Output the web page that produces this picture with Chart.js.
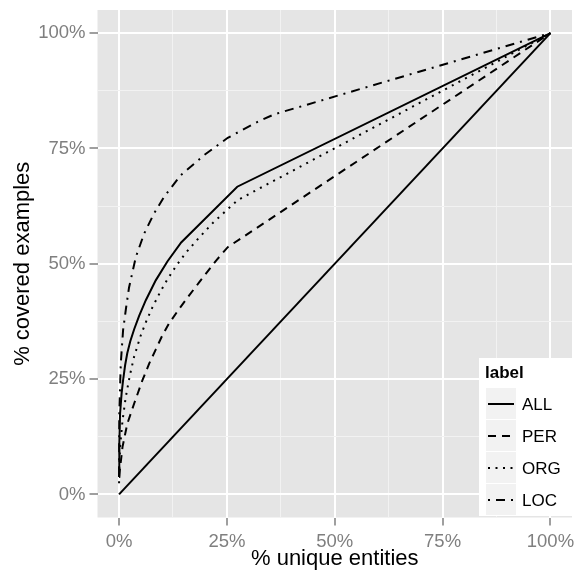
<!DOCTYPE html>
<html>
<head>
<meta charset="utf-8">
<script src="https://cdn.jsdelivr.net/npm/chart.js@4"></script>
<style>
  html, body { margin: 0; padding: 0; background: #ffffff; }
  canvas { display: block; }
</style>
</head>
<body>
<canvas id="chart" width="576" height="570"></canvas>
<script>
// values (percent)
var allX = [0, 0.05, 0.23, 0.6, 0.93, 1.4, 1.9, 2.6, 3.5, 4.65, 6.2, 8.5, 11.2, 14.4, 27.4, 100];
var allY = [3.8, 11, 17.5, 22, 24.7, 28.0, 30.6, 33.2, 35.8, 38.7, 42.1, 46.4, 50.5, 54.6, 66.7, 100];

var perX = [0, 0.8, 1.9, 3.5, 5.4, 7, 8.5, 10, 11.6, 14, 16.3, 18.6, 20.5, 22.5, 25.2, 100];
var perY = [3.8, 10.3, 15.3, 19.7, 24.7, 28.4, 31.4, 34.4, 37.1, 40.3, 43.2, 46.0, 48.3, 50.7, 53.6, 100];

var orgX = [0, 0.23, 0.8, 1.55, 2.5, 3.5, 5, 6.2, 7.7, 9.5, 11.2, 13.2, 15.5, 18.2, 21.9, 27.5, 100];
var orgY = [3.8, 10.3, 16, 21.1, 25.8, 29.9, 34.4, 37.3, 40.5, 43.8, 46.6, 49.5, 52.4, 55.3, 59.0, 63.8, 100];

var locX = [0, 0.05, 0.4, 0.93, 1.6, 2.3, 3.9, 5.8, 8.1, 10.5, 14.3, 19.8, 25.2, 32.2, 36, 100];
var locY = [2.4, 17.6, 28.4, 35.6, 40.3, 44.8, 51.5, 56.5, 60.9, 64.6, 69.2, 73.6, 77.3, 80.8, 82.4, 100];

var diagX = [0, 100];
var diagY = [0, 100];

var labels = ['ALL', 'PER', 'ORG', 'LOC'];
var tickValues = [0, 12.5, 25, 37.5, 50, 62.5, 75, 87.5, 100];

var FONT = '"Liberation Sans", Arial, sans-serif';

function pts(xs, ys) {
    return xs.map(function (x, i) { return { x: x, y: ys[i] }; });
}

function series(label, xs, ys, dash) {
    return {
        label: label,
        data: pts(xs, ys),
        showLine: true,
        borderColor: '#000000',
        borderWidth: 2,
        borderDash: dash,
        pointRadius: 0,
        fill: false,
        tension: 0
    };
}

var datasets = [
    series(labels[0], allX, allY, []),
    series(labels[1], perX, perY, [8, 6]),
    series(labels[2], orgX, orgY, [2, 5.5]),
    series(labels[3], locX, locY, [2, 6, 9, 6])
];
var diag = series('', diagX, diagY, []);
diag.noLegend = true;
datasets.push(diag);

function isMajor(v) { return v % 25 === 0; }

var panelBg = {
    id: 'panelBg',
    beforeDraw: function (chart) {
        var a = chart.chartArea, ctx = chart.ctx;
        ctx.save();
        ctx.fillStyle = '#e5e5e5';
        ctx.fillRect(a.left, a.top, a.right - a.left, a.bottom - a.top);
        ctx.restore();
    }
};

// ggplot-like legend box in the bottom right corner
var ggLegend = {
    id: 'ggLegend',
    afterDraw: function (chart) {
        var ctx = chart.ctx;
        var items = chart.data.datasets.filter(function (d) { return !d.noLegend; });
        var left = 479, top = 358, keyH = 32, keyW = 30;
        ctx.save();
        ctx.fillStyle = '#ffffff';
        ctx.fillRect(left, top, 576 - left, 20 + 10 + items.length * keyH);
        ctx.fillStyle = '#000000';
        ctx.font = 'bold 17px ' + FONT;
        ctx.textBaseline = 'middle';
        ctx.fillText('label', left + 6, top + 15);
        items.forEach(function (d, i) {
            var ky = top + 30 + i * keyH;
            ctx.fillStyle = '#f2f2f2';
            ctx.fillRect(left + 7, ky, keyW, keyH - 1);
            ctx.strokeStyle = '#000000';
            ctx.lineWidth = 2;
            ctx.setLineDash(d.borderDash || []);
            ctx.beginPath();
            ctx.moveTo(left + 9, ky + keyH / 2);
            ctx.lineTo(left + 7 + keyW - 2, ky + keyH / 2);
            ctx.stroke();
            ctx.setLineDash([]);
            ctx.fillStyle = '#000000';
            ctx.font = '17px ' + FONT;
            ctx.fillText(d.label, left + keyW + 13, ky + keyH / 2 + 1);
        });
        ctx.restore();
    }
};

function axis(title, isX) {
    return {
        type: 'linear',
        min: -5,
        max: 105,
        afterBuildTicks: function (scale) {
            scale.ticks = tickValues.map(function (v) { return { value: v }; });
        },
        afterFit: function (scale) {
            if (isX) scale.height = 52.5; else scale.width = 97.5;
            // no extra room for the end labels, the panel fills the page like ggplot
            scale.paddingLeft = scale.paddingRight = 0;
            scale.paddingTop = scale.paddingBottom = 0;
        },
        border: { display: false },
        grid: {
            color: function (c) { return isMajor(c.tick.value) ? '#ffffff' : '#f2f2f2'; },
            lineWidth: function (c) { return isMajor(c.tick.value) ? 2 : 1; },
            tickColor: function (c) { return isMajor(c.tick.value) ? '#7f7f7f' : 'rgba(0,0,0,0)'; },
            tickLength: 8,
            tickWidth: 1.5
        },
        ticks: {
            autoSkip: false,
            maxRotation: 0,
            padding: isX ? 5 : 4,
            color: '#7f7f7f',
            font: { family: FONT, size: 18.5 },
            callback: function (v) { return isMajor(v) ? v + '%' : ''; }
        },
        title: {
            display: true,
            text: title,
            color: '#000000',
            padding: isX ? 0 : { top: 10, bottom: 0 },
            font: { family: FONT, size: 22, lineHeight: isX ? 1 : 1.2 }
        }
    };
}

new Chart(document.getElementById('chart'), {
    type: 'scatter',
    data: { datasets: datasets },
    options: {
        responsive: false,
        animation: false,
        devicePixelRatio: 1,
        layout: { padding: { left: 0, right: 4, top: 10, bottom: 0 } },
        plugins: {
            legend: { display: false },
            tooltip: { enabled: false }
        },
        scales: {
            x: axis('% unique entities', true),
            y: axis('% covered examples', false)
        }
    },
    plugins: [panelBg, ggLegend]
});
</script>
</body>
</html>
